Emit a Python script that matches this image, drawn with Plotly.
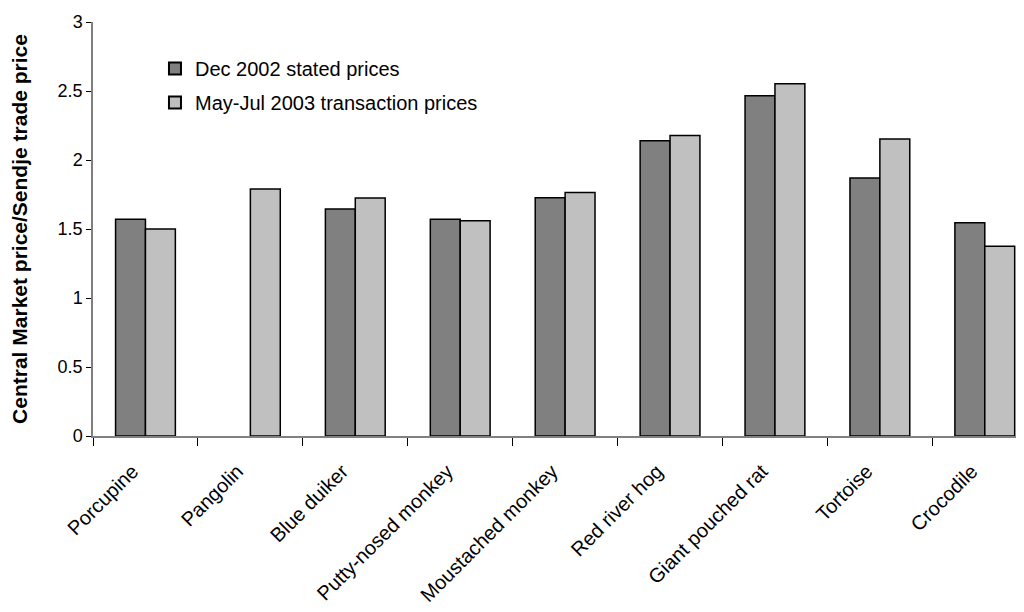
import plotly.graph_objects as go

categories = ["Porcupine", "Pangolin", "Blue duiker", "Putty-nosed monkey",
              "Moustached monkey", "Red river hog", "Giant pouched rat",
              "Tortoise", "Crocodile"]
dec_2002 = [1.57, None, 1.645, 1.57, 1.727, 2.14, 2.465, 1.87, 1.545]
may_jul_2003 = [1.50, 1.79, 1.725, 1.56, 1.765, 2.177, 2.553, 2.152, 1.375]
y_ticks = [0, 0.5, 1, 1.5, 2, 2.5, 3]
y_tick_text = ["0", "0.5", "1", "1.5", "2", "2.5", "3"]

fig = go.Figure()
fig.add_trace(go.Bar(x=categories, y=dec_2002, name="Dec 2002 stated prices",
                     legendgroup="a",
                     marker=dict(color="#808080", line=dict(color="black", width=1.5))))
fig.add_trace(go.Bar(x=categories, y=may_jul_2003, name="May-Jul 2003 transaction prices",
                     legendgroup="b",
                     marker=dict(color="#C0C0C0", line=dict(color="black", width=1.5))))

fig.update_layout(
    width=1024, height=612,
    margin=dict(l=85, r=0, t=14, b=184),
    plot_bgcolor="white", paper_bgcolor="white",
    barmode="group", bargap=0.43, bargroupgap=0,
    font=dict(family="Liberation Sans, Arial, sans-serif", size=18, color="black"),
    showlegend=True,
    legend=dict(x=0.066, y=0.935, xanchor="left", yanchor="top",
                bgcolor="rgba(0,0,0,0)", font=dict(size=20), tracegroupgap=5,
                itemsizing="constant"),
    xaxis=dict(range=[-0.5, 8.45], showline=True, linecolor="#808080", linewidth=1.5,
               ticks="outside", tickson="boundaries", ticklen=8, tickcolor="black",
               tickangle=-45, tickfont=dict(size=20), showgrid=False,
               ticklabelstandoff=14, ticklabelshift=-13),
    yaxis=dict(range=[0, 3], tickvals=y_ticks, ticktext=y_tick_text,
               showline=True, linecolor="#808080", linewidth=1.5,
               ticks="outside", ticklen=5, tickcolor="black", showgrid=False,
               zeroline=False, tickfont=dict(size=18),
               title=dict(text="<b>Central Market price/Sendje trade price</b>",
                          font=dict(size=21), standoff=34)),
)

fig.write_html("out.html")
